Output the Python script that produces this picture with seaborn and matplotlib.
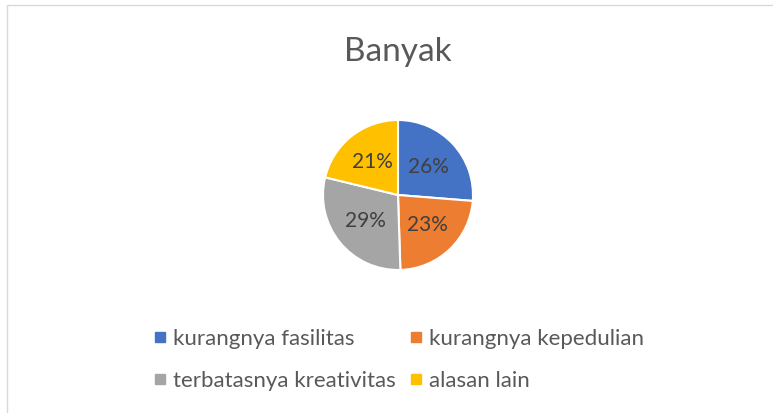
import matplotlib
matplotlib.use("Agg")
import matplotlib.pyplot as plt
from matplotlib.patches import Rectangle
from matplotlib.lines import Line2D
import seaborn as sns

# Survey reasons and their shares (percent)
categories = ["kurangnya fasilitas", "kurangnya kepedulian",
              "terbatasnya kreativitas", "alasan lain"]
shares = [26, 23, 29, 21]
title = "Banyak"
colors = ["#4472C4", "#ED7D31", "#A5A5A5", "#FFC000"]

sns.set_theme(style="white")
plt.rcParams["font.family"] = ["Lato", "DejaVu Sans"]

W, H = 773, 413
fig = plt.figure(figsize=(W / 100, H / 100), dpi=100)
fig.patch.set_facecolor("white")

# chart frame (top and left edges visible)
fig.patches.append(Rectangle((7 / W, -0.1), 1.2, (H - 5) / H + 0.1,
                             transform=fig.transFigure, fill=False,
                             edgecolor="#D9D9D9", linewidth=1.0))

cx, cy, r = 398, 195, 75
ax = fig.add_axes([(cx - r) / W, (H - cy - r) / H, 2 * r / W, 2 * r / H])
wedges, texts, autotexts = ax.pie(
    shares, colors=colors, startangle=90, counterclock=False,
    autopct=lambda p: f"{p:.0f}%", pctdistance=0.56,
    wedgeprops=dict(edgecolor="white", linewidth=1.5),
    textprops=dict(color="#404040", fontsize=15))
ax.set_xlim(-1, 1)
ax.set_ylim(-1, 1)
ax.set_aspect("equal")
ax.axis("off")

fig.text(cx / W, 1 - 52 / H, title, ha="center", va="center",
         fontsize=24, color="#595959")

# legend laid out row by row: two entries per row
order = [0, 2, 1, 3]
handles = [Line2D([0], [0], marker="s", linestyle="none", markersize=7,
                  markerfacecolor=colors[i], markeredgecolor=colors[i])
           for i in order]
labels = [categories[i] for i in order]
fig.legend(handles, labels, ncol=2, loc="center",
           bbox_to_anchor=(398 / W, 1 - 360 / H), frameon=False,
           fontsize=16, labelcolor="#595959", handletextpad=0.25,
           columnspacing=0.55, handlelength=0.7, labelspacing=1.0)

fig.savefig("out.png", dpi=100, facecolor="white")
